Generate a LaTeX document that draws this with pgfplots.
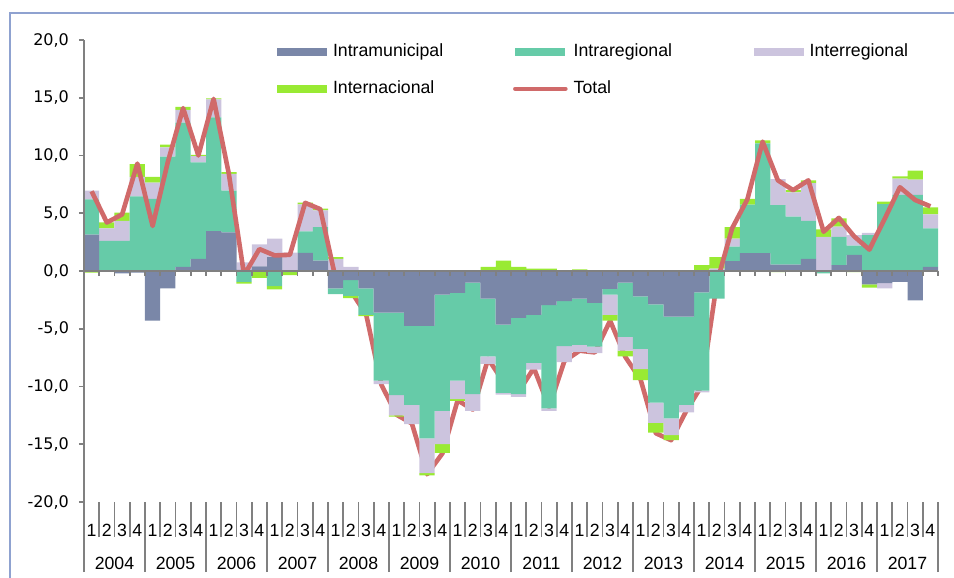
\documentclass[border=0pt]{standalone}
\usepackage{pgfplots}
\pgfplotsset{compat=1.18}
\usepackage{pgfplotstable}
\usepackage{fontspec}
\setmainfont{Liberation Sans}
\newfontfamily\tickfont{DejaVu Sans}

\definecolor{cMun}{HTML}{7A87A8}
\definecolor{cReg}{HTML}{66CBA8}
\definecolor{cInt}{HTML}{CCC4DE}
\definecolor{cExt}{HTML}{99EA33}
\definecolor{cTot}{HTML}{D06A6A}
\definecolor{axgray}{HTML}{808080}
\definecolor{framecol}{HTML}{8FA2D0}

% q = quarter index (2004T1 = 0), a = intramunicipal, b = intraregional,
% c = interregional, d = internacional, t = total
\pgfplotstableread{
q a b c d t
0 3.15 3.05 0.75 -0.15 6.9
1 0 2.6 1.1 0.5 4.2
2 -0.2 2.6 1.75 0.7 4.9
3 -0.15 6.45 1.7 1.1 9.3
4 -4.3 6.25 1.4 0.5 3.9
5 -1.5 9.9 0.8 0.25 9.45
6 0.35 12.5 1.1 0.25 14.1
7 1.05 8.35 0.55 0.1 10.0
8 3.45 9.85 1.55 0.1 14.9
9 3.35 3.6 1.45 0.15 8.4
10 0.1 -0.95 0.65 -0.15 -0.35
11 0.4 0 1.9 -0.6 1.9
12 1.2 -1.3 1.6 -0.3 1.35
13 0 -0.1 1.6 -0.25 1.4
14 1.57 1.85 2.35 0.15 5.9
15 0.9 2.9 1.45 0.15 5.35
16 -1.5 -0.5 1.05 0.15 -0.65
17 -0.8 -1.35 0.35 -0.2 -1.75
18 -1.5 -2.3 0 -0.1 -3.75
19 -3.6 -5.9 -0.3 0 -9.85
20 -3.6 -7.15 -1.75 -0.1 -12.45
21 -4.75 -6.85 -1.65 0 -13.2
22 -4.75 -9.75 -3.0 -0.2 -17.6
23 -2.05 -10.05 -2.9 -0.75 -15.8
24 -1.9 -7.6 -1.6 -0.15 -11.2
25 -1.0 -9.65 -1.45 0 -12.0
26 -2.4 -5.0 -0.65 0.35 -7.6
27 -4.65 -5.9 -0.15 0.9 -9.6
28 -4.05 -6.6 -0.25 0.35 -10.45
29 -3.8 -4.15 -0.6 0.2 -8.4
30 -2.95 -8.95 -0.2 0.2 -11.8
31 -2.6 -3.9 -1.4 0.05 -7.8
32 -2.4 -4.0 -0.6 0.15 -6.9
33 -2.75 -3.8 -0.55 0 -7.05
34 -1.55 -0.5 -1.75 -0.5 -4.3
35 -1.0 -4.7 -1.2 -0.5 -7.45
36 -2.2 -4.55 -1.75 -0.95 -9.4
37 -2.9 -8.5 -1.75 -0.85 -14.05
38 -3.95 -8.8 -1.45 -0.45 -14.65
39 -3.95 -7.65 -0.65 0 -12.1
40 -1.85 -8.5 -0.15 0.5 -9.95
41 0 -2.4 0.2 1.0 -1.0
42 0.85 1.25 0.7 1.0 3.7
43 1.55 4.2 0 0.5 6.2
44 1.55 9.5 0 0.25 11.2
45 0.55 5.15 2.25 -0.1 7.85
46 0.55 4.15 2.1 0.2 7.0
47 1.05 3.3 3.25 0.25 7.85
48 0 -0.2 2.95 0.65 3.4
49 0.5 2.45 0.9 0.7 4.6
50 1.4 0.8 0.9 -0.1 3.0
51 -1.15 3.1 0.2 -0.3 1.85
52 -1.05 5.8 -0.45 0.2 4.5
53 -0.95 6.6 1.4 0.2 7.25
54 -2.55 6.6 1.3 0.8 6.15
55 0.35 3.35 1.2 0.6 5.6
}\migr

\pgfplotsset{
  base/.style={
    scale only axis, width=427pt, height=231pt,
    at={(0,0)}, anchor=south west,
    xmin=-0.5, xmax=55.5, ymin=-20, ymax=20,
    tick style={axgray, line width=0.8pt},
    axis line style={axgray, line width=0.8pt},
  },
  barleg/.style={legend image code/.code={\fill[##1] (0pt,-2pt) rectangle (25pt,2pt);}},
  linleg/.style={legend image code/.code={\draw[##1, line cap=round] (0pt,0pt) -- (25pt,0pt);}},
}

\begin{document}
\begin{tikzpicture}

% positive parts + quarter labels
\begin{axis}[base, ybar stacked, bar width=1,
  axis y line=none, axis x line*=bottom, x axis line style={draw=none},
  tick align=outside, major tick length=17.5pt,
  xtick={-0.5,0.5,...,55.5},
  xticklabels={1,2,3,4,1,2,3,4,1,2,3,4,1,2,3,4,1,2,3,4,1,2,3,4,1,2,3,4,
    1,2,3,4,1,2,3,4,1,2,3,4,1,2,3,4,1,2,3,4,1,2,3,4,1,2,3,4,{}},
  xticklabel style={font=\fontsize{8.85}{10}\selectfont, anchor=center, xshift=3.81pt, yshift=3.5pt},
]
\addplot[fill=cMun, draw=none] table[x=q, y expr={max(\thisrow{a},0)}] {\migr};
\addplot[fill=cReg, draw=none] table[x=q, y expr={max(\thisrow{b},0)}] {\migr};
\addplot[fill=cInt, draw=none] table[x=q, y expr={max(\thisrow{c},0)}] {\migr};
\addplot[fill=cExt, draw=none] table[x=q, y expr={max(\thisrow{d},0)}] {\migr};
\end{axis}

% year separators and labels
\begin{axis}[base,
  axis y line=none, axis x line*=bottom, x axis line style={draw=none},
  tick align=outside, major tick length=35pt,
  xtick={-0.5,3.5,...,55.5},
  xticklabels={2004,2005,2006,2007,2008,2009,2010,2011,2012,2013,2014,2015,2016,2017,{}},
  xticklabel style={font=\fontsize{8.85}{10}\selectfont, anchor=center, xshift=15.25pt, yshift=4.5pt},
]
\end{axis}

% negative parts, total line, zero axis, y axis, legend
\begin{axis}[base, ybar stacked, bar width=1, axis on top,
  axis x line*=middle, axis y line*=left,
  hide obscured x ticks=false, hide obscured y ticks=false,
  tick align=outside, major tick length=2.5pt,
  xtick={-0.5,0.5,...,55.5}, xticklabels={},
  ytick={-20,-15,...,20},
  yticklabel style={font=\tickfont\fontsize{8}{9}\selectfont, xshift=-1.5pt,
    /pgf/number format/.cd, fixed, fixed zerofill, precision=1, use comma, assume math mode=true},
  legend columns=3,
  legend style={draw=none, fill=none, at={(0.2256,0.992)}, anchor=north west,
    inner sep=0pt, font=\fontsize{8.85}{10.6}\selectfont,
    nodes={inner sep=0pt, text width=85pt, align=left},
    /tikz/every odd column/.append style={column sep=3pt},
    /tikz/every even column/.append style={column sep=5pt},
    row sep=10.5pt},
]
\addplot[fill=cMun, draw=none, barleg] table[x=q, y expr={min(\thisrow{a},0)}] {\migr};
\addplot[fill=cReg, draw=none, barleg] table[x=q, y expr={min(\thisrow{b},0)}] {\migr};
\addplot[fill=cInt, draw=none, barleg] table[x=q, y expr={min(\thisrow{c},0)}] {\migr};
\addplot[fill=cExt, draw=none, barleg] table[x=q, y expr={min(\thisrow{d},0)}] {\migr};
\addplot[cTot, line width=2.3pt, line join=round, sharp plot, stack plots=false, linleg]
  table[x=q, y=t] {\migr};
\legend{Intramunicipal, Intraregional, Interregional, Internacional, Total}
\end{axis}

\draw[framecol, line width=0.75pt] (-37pt,244.5pt) rectangle (460pt,-60pt);
\pgfresetboundingbox
\path[use as bounding box] (-42pt,-38pt) rectangle (435pt,251pt);
\end{tikzpicture}
\end{document}
